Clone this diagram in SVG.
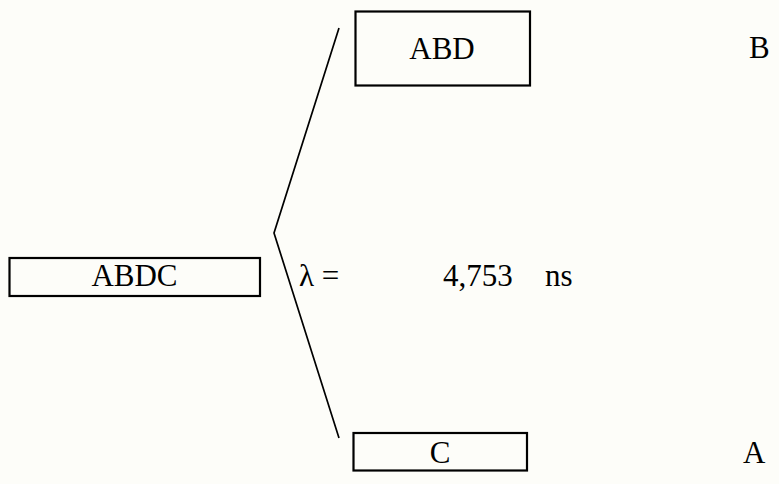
<svg xmlns="http://www.w3.org/2000/svg" width="779" height="484" viewBox="0 0 779 484">
<style>
.box{fill:none;stroke:#000;stroke-width:2.2}
.t{font-family:"Liberation Serif","DejaVu Serif",serif;font-size:31px;fill:#000}
.c{text-anchor:middle}
.ln{fill:none;stroke:#000;stroke-width:1.7}
</style>
<rect x="0" y="0" width="779" height="484" fill="#fdfdf9"/>
<g id="connectors">
<polyline class="ln" points="339,28 274,233 339,438"/>
</g>
<g id="node-abdc">
<rect class="box" x="9.5" y="258" width="250.5" height="38"/>
<text class="t c" x="134.5" y="286">ABDC</text>
</g>
<g id="node-abd">
<rect class="box" x="355.5" y="11.5" width="174.5" height="74"/>
<text class="t c" x="442" y="59">ABD</text>
</g>
<g id="node-c">
<rect class="box" x="353.5" y="433" width="173.5" height="37.5"/>
<text class="t c" x="440" y="463">C</text>
</g>
<g id="labels">
<text class="t" x="749" y="58">B</text>
<text class="t" x="743" y="463">A</text>
<text class="t" x="299" y="286">λ =</text>
<text class="t" x="443" y="286">4,753</text>
<text class="t" x="545" y="286">ns</text>
</g>
</svg>
